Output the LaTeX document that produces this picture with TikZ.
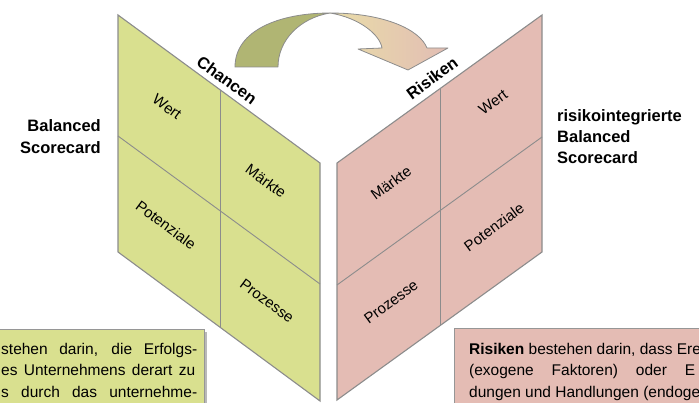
\documentclass[tikz,border=0pt]{standalone}
\usepackage{fontspec}
\setmainfont{Liberation Sans}
\definecolor{chgreen}{RGB}{217,224,143}
\definecolor{rspink}{RGB}{228,188,180}
\definecolor{lineg}{RGB}{140,140,140}
\definecolor{boxline}{RGB}{150,150,150}
\definecolor{shadowg}{RGB}{185,185,185}
\definecolor{arrowolive}{RGB}{176,181,115}
\definecolor{arrowlight}{RGB}{233,221,168}
\definecolor{arrowpink}{RGB}{226,189,180}
\newcommand\myjust[2]{\hbox to #1{\spaceskip=0.278em plus 1fil\relax #2}}
\begin{document}
\begin{tikzpicture}[x=1pt,y=-1pt,
  panel/.style={draw=lineg, line width=1.1pt, line join=miter},
  div/.style={draw=lineg, line width=0.9pt},
  cell/.style={font=\fontsize{15}{18}\selectfont, inner sep=0pt},
  head/.style={font=\fontsize{16.5}{20}\selectfont\bfseries, inner sep=0pt},
  lbl/.style={font=\fontsize{16.5}{20}\selectfont\bfseries, inner sep=0pt},
  boxtxt/.style={font=\fontsize{15.5}{21}\selectfont, inner sep=0pt},
  arrowpart/.style={draw=lineg, line width=0.8pt, line join=round},
  textbox/.style={draw=boxline, line width=0.8pt}
]
\useasboundingbox (0,0) rectangle (699,403);
\clip (0,0) rectangle (699,403);

% left panel (Balanced Scorecard)
\coordinate (LA) at (118,15);
\coordinate (LB) at (320,163);
\coordinate (LC) at (320,401);
\coordinate (LD) at (118,252);
\filldraw[panel, fill=chgreen] (LA) -- (LB) -- (LC) -- (LD) -- cycle;
\coordinate (LT) at (220,90);
\coordinate (LBm) at (220,327);
\coordinate (LL) at (118,136);
\coordinate (LR) at (320,284);
\draw[div] (LT) -- (LBm);
\draw[div] (LL) -- (LR);

% right panel (risikointegrierte BSC)
\coordinate (RA) at (337,163);
\coordinate (RB) at (542,15);
\coordinate (RC) at (542,252);
\coordinate (RD) at (337,400);
\filldraw[panel, fill=rspink] (RA) -- (RB) -- (RC) -- (RD) -- cycle;
\coordinate (RT) at (440,89);
\coordinate (RBm) at (440,326);
\coordinate (RL) at (337,285);
\coordinate (RR) at (542,137);
\draw[div] (RT) -- (RBm);
\draw[div] (RL) -- (RR);

% cell labels left
\node[cell, rotate=-36.3] (lwert) at (167,107) {Wert};
\node[cell, rotate=-36.3] (lmaerkte) at (266,181) {Märkte};
\node[cell, rotate=-36.3] (lpot) at (166,225) {Potenziale};
\node[cell, rotate=-36.3] (lproz) at (267,301) {Prozesse};
\node[head, rotate=-36.3] (chancen) at (227,80) {Chancen};

% cell labels right
\node[cell, rotate=36.3] (rwert) at (493,102) {Wert};
\node[cell, rotate=36.3] (rmaerkte) at (391,183) {Märkte};
\node[cell, rotate=36.3] (rpot) at (494,227) {Potenziale};
\node[cell, rotate=36.3] (rproz) at (391,302) {Prozesse};
\node[head, rotate=36.3] (risiken) at (432,78) {Risiken};

% side labels
\node[lbl, anchor=base east] (bsc1) at (101,132) {Balanced};
\node[lbl, anchor=base east] (bsc2) at (101,154) {Scorecard};
\node[lbl, anchor=base west] (rbsc1) at (557,121.5) {risikointegrierte};
\node[lbl, anchor=base west] (rbsc2) at (557,142.5) {Balanced};
\node[lbl, anchor=base west] (rbsc3) at (557,163.5) {Scorecard};

% curved arrow
\path[arrowpart, left color=arrowlight, right color=arrowpink]
  (330,13) .. controls (385,13) and (420,30) .. (427,48)
  -- (448,48) -- (408,70) -- (358,49) -- (382,48)
  .. controls (380,35) and (360,18) .. (330,13) -- cycle;
\filldraw[arrowpart, fill=arrowolive]
  (235,67) .. controls (235,30) and (280,13) .. (330,13)
  .. controls (300,18) and (278,40) .. (278,67) -- cycle;

% text boxes
\fill[shadowg] (-5,332) rectangle (207,410);
\filldraw[textbox, fill=chgreen] (-5,329) rectangle (204,410);
\fill[shadowg] (457,331) rectangle (710,410);
\filldraw[textbox, fill=rspink] (454,328) rectangle (710,410);

\node[boxtxt, anchor=base west] (c1) at (1,355) {\myjust{196pt}{stehen darin, die Erfolgs-}};
\node[boxtxt, anchor=base west] (c2) at (1,376) {\myjust{194pt}{es Unternehmens derart zu}};
\node[boxtxt, anchor=base west] (c3) at (1,397) {\myjust{196pt}{s durch das unternehme-}};

\node[boxtxt, anchor=base west] (r1) at (469,355) {\textbf{Risiken} bestehen darin, dass Ere};
\node[boxtxt, anchor=base west] (r2) at (469,376) {\myjust{226pt}{(exogene Faktoren) oder E}};
\node[boxtxt, anchor=base west] (r3) at (469,397) {dungen und Handlungen (endoge};
\end{tikzpicture}
\end{document}
